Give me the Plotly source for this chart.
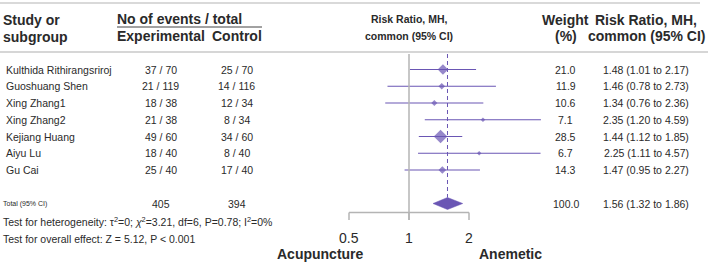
import math
import plotly.graph_objects as go

W, H = 708, 264

studies = ["Kulthida Rithirangsriroj", "Guoshuang Shen", "Xing Zhang1", "Xing Zhang2",
           "Kejiang Huang", "Aiyu Lu", "Gu Cai"]
exp_events = [37, 21, 18, 21, 49, 18, 25]
exp_total = [70, 119, 38, 38, 60, 40, 40]
ctrl_events = [25, 14, 12, 8, 34, 8, 17]
ctrl_total = [70, 116, 34, 34, 60, 40, 40]
weights = [21.0, 11.9, 10.6, 7.1, 28.5, 6.7, 14.3]
rr = [1.48, 1.46, 1.34, 2.35, 1.44, 2.25, 1.47]
rr_lo = [1.01, 0.78, 0.76, 1.20, 1.12, 1.11, 0.95]
rr_hi = [2.17, 2.73, 2.36, 4.59, 1.85, 4.57, 2.27]

total_exp = 405
total_ctrl = 394
total_weight = 100.0
total_rr = 1.56
total_lo = 1.32
total_hi = 1.86

tick_vals = [0.5, 1, 2]
tick_text = ["0.5", "1", "2"]

PURPLE = "#6a56b4"
TXT = "#2a2a2a"
GRID = "#b4b4b4"
FONT = "Liberation Sans, Arial, sans-serif"

# pixel geometry
X1_PX = 409.0          # pixel of RR = 1
PX_PER_DEC = 60 / 0.30103
ROW0_PX = 69.5
ROW_STEP = 16.75
TOTAL_ROW = 8

x_range = [(0 - X1_PX) / PX_PER_DEC, (W - X1_PX) / PX_PER_DEC]
y_range = [(H - ROW0_PX) / ROW_STEP, (0 - ROW0_PX) / ROW_STEP]

def py(p):  # pixel y to paper
    return 1 - p / H

def px(p):
    return p / W

def row_of_px(p):
    return (p - ROW0_PX) / ROW_STEP

fig = go.Figure()

# CI lines, one trace per study
for i in range(len(studies)):
    fig.add_trace(go.Scatter(x=[rr_lo[i], rr_hi[i]], y=[i, i], mode="lines",
                             line=dict(color=PURPLE, width=1.2),
                             hoverinfo="skip", showlegend=False))

# study markers
sizes = [(1.6 + 0.42 * w) / 1.3 for w in weights]
fig.add_trace(go.Scatter(x=rr, y=list(range(len(studies))), mode="markers",
                         marker=dict(symbol="diamond", size=sizes, color=PURPLE,
                                     line=dict(width=0)),
                         showlegend=False))

# total diamond
h = 6 / ROW_STEP
fig.add_trace(go.Scatter(x=[total_lo, total_rr, total_hi, total_rr, total_lo],
                         y=[TOTAL_ROW, TOTAL_ROW - h, TOTAL_ROW, TOTAL_ROW + h, TOTAL_ROW],
                         mode="lines", fill="toself", fillcolor=PURPLE,
                         line=dict(color=PURPLE, width=0.5), showlegend=False))

shapes = []
# header rules
shapes.append(dict(type="line", xref="paper", yref="paper", x0=0, x1=px(700),
                   y0=py(3), y1=py(3), line=dict(color=GRID, width=1.2)))
shapes.append(dict(type="line", xref="paper", yref="paper", x0=0, x1=1,
                   y0=py(52), y1=py(52), line=dict(color="#c8c8c8", width=1.5)))
shapes.append(dict(type="line", xref="paper", yref="paper", x0=px(117), x1=px(262),
                   y0=py(27), y1=py(27), line=dict(color="#444", width=1)))
# null line
shapes.append(dict(type="line", xref="x", yref="y", x0=1, x1=1,
                   y0=row_of_px(54), y1=row_of_px(220), line=dict(color=GRID, width=1.5)))
# axis line + ticks
shapes.append(dict(type="line", xref="x", yref="y", x0=tick_vals[0], x1=tick_vals[-1],
                   y0=row_of_px(212.5), y1=row_of_px(212.5), line=dict(color=GRID, width=1.5)))
for t in tick_vals:
    shapes.append(dict(type="line", xref="x", yref="y", x0=t, x1=t,
                       y0=row_of_px(212.5), y1=row_of_px(220), line=dict(color=GRID, width=1.5)))
# dashed overall line
shapes.append(dict(type="line", xref="x", yref="y", x0=total_rr, x1=total_rr,
                   y0=row_of_px(54), y1=TOTAL_ROW - h, line=dict(color=PURPLE, width=1, dash="4px,3px")))

ann = []
def A(text, x, y, size=10.5, bold=False, xanchor="left", xref="paper", yref="paper", color=TXT):
    if bold:
        text = "<b>" + text + "</b>"
    ann.append(dict(text=text, x=x, y=y, xref=xref, yref=yref, xanchor=xanchor,
                    yanchor="middle", showarrow=False,
                    font=dict(family=FONT, size=size, color=color)))

# headers
A("Study or", px(1), py(20), 14, True)
A("subgroup", px(1), py(37), 14, True)
A("No of events / total", px(115), py(19), 14, True)
A("Experimental", px(160.5), py(36), 14, True, "center")
A("Control", px(236.7), py(36), 14, True, "center")
A("Risk Ratio, MH,", math.log10(1), py(19), 10.5, True, "center", xref="x")
A("common (95% CI)", math.log10(1), py(36), 10.5, True, "center", xref="x")
A("Weight", px(565.5), py(20), 14, True, "center")
A("(%)", px(565.5), py(36), 14, True, "center")
A("Risk Ratio, MH,", px(646), py(20), 14, True, "center")
A("common (95% CI)", px(646), py(36), 14, True, "center")

for i, s in enumerate(studies):
    A(s, px(4), i, xref="paper", yref="y")
    A(f"{exp_events[i]} / {exp_total[i]}", px(160.5), i, xanchor="center", yref="y")
    A(f"{ctrl_events[i]} / {ctrl_total[i]}", px(236.7), i, xanchor="center", yref="y")
    A(f"{weights[i]:.1f}", px(565.5), i, xanchor="center", yref="y")
    A(f"{rr[i]:.2f} ({rr_lo[i]:.2f} to {rr_hi[i]:.2f})", px(646), i, xanchor="center", yref="y")

A("Total (95% CI)", px(1), TOTAL_ROW, 7, yref="y")
A(str(total_exp), px(160.5), TOTAL_ROW, xanchor="center", yref="y")
A(str(total_ctrl), px(236.7), TOTAL_ROW, xanchor="center", yref="y")
A(f"{total_weight:.1f}", px(565.5), TOTAL_ROW, xanchor="center", yref="y")
A(f"{total_rr:.2f} ({total_lo:.2f} to {total_hi:.2f})", px(646), TOTAL_ROW, xanchor="center", yref="y")

A("Test for heterogeneity: τ<sup>2</sup>=0; <i>χ</i><sup>2</sup>=3.21, df=6, P=0.78; I<sup>2</sup>=0%",
  px(1), py(221.5))
A("Test for overall effect: Z = 5.12, P < 0.001", px(1), py(238.5))

for t, lab in zip(tick_vals, tick_text):
    A(lab, math.log10(t), py(238), 14, False, "center", xref="x")
A("Acupuncture", px(320), py(254), 14, True, "center")
A("Anemetic", px(510), py(254), 14, True, "center")

fig.update_layout(
    width=W, height=H, autosize=False,
    margin=dict(l=0, r=0, t=0, b=0),
    paper_bgcolor="white", plot_bgcolor="white",
    xaxis=dict(type="log", range=x_range, domain=[0, 1], visible=False, fixedrange=True),
    yaxis=dict(range=y_range, domain=[0, 1], visible=False, fixedrange=True),
    shapes=shapes, annotations=ann, showlegend=False,
)

fig.write_html("out.html")
